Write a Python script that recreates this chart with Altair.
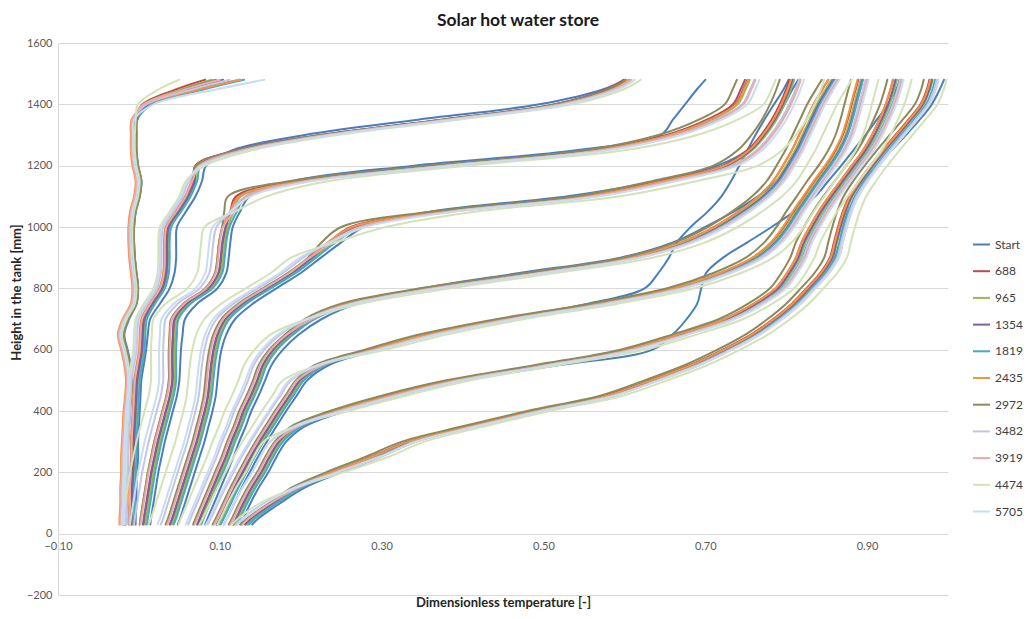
import altair as alt
import pandas as pd

# ---------------- data ----------------
SERIES = ["Start", "688", "965", "1354", "1819", "2435", "2972", "3482", "3919", "4474", "5705"]
COLORS = ["#4A7EBB", "#BE4B48", "#98B954", "#7D60A0", "#46AAC5", "#F69240",
          "#8C8A5C", "#C2C6E8", "#E8ABAA", "#D3E3B7", "#CADCF0"]

# heights in the tank [mm]
H = [30, 50, 100, 150, 200, 250, 300, 350, 400, 450, 500, 550, 600, 650, 700, 750,
     800, 850, 900, 950, 1000, 1050, 1100, 1150, 1200, 1250, 1300, 1350, 1400, 1450, 1480]

# typical temperature profiles (8 moments of the charge)
P1 = [-0.020, -0.020, -0.019, -0.019, -0.018, -0.018, -0.017, -0.016, -0.015, -0.013, -0.012, -0.014,
      -0.018, -0.022, -0.016, -0.006, -0.004, -0.006, -0.008, -0.009, -0.009, -0.007, -0.002, 0.000,
      -0.004, -0.006, -0.006, -0.005, 0.008, 0.060, 0.100]
P2 = [-0.010, -0.010, -0.009, -0.009, -0.008, -0.007, -0.007, -0.006, -0.005, -0.004, -0.003, 0.000,
      0.003, 0.004, 0.006, 0.016, 0.028, 0.033, 0.034, 0.034, 0.036, 0.048, 0.060, 0.068,
      0.074, 0.125, 0.230, 0.380, 0.520, 0.585, 0.605]
P3 = [0.004, 0.005, 0.008, 0.011, 0.014, 0.018, 0.022, 0.027, 0.032, 0.037, 0.040, 0.040,
      0.040, 0.041, 0.043, 0.058, 0.085, 0.097, 0.100, 0.102, 0.106, 0.116, 0.128, 0.205,
      0.375, 0.570, 0.660, 0.710, 0.742, 0.752, 0.757]
P4 = [0.037, 0.040, 0.046, 0.052, 0.058, 0.064, 0.070, 0.075, 0.080, 0.084, 0.086, 0.088,
      0.091, 0.096, 0.106, 0.127, 0.157, 0.188, 0.213, 0.238, 0.270, 0.380, 0.560, 0.655,
      0.730, 0.760, 0.777, 0.790, 0.800, 0.808, 0.812]
P5 = [0.071, 0.074, 0.082, 0.090, 0.098, 0.106, 0.113, 0.121, 0.128, 0.137, 0.145, 0.152,
      0.165, 0.185, 0.212, 0.260, 0.360, 0.490, 0.610, 0.675, 0.715, 0.745, 0.770, 0.788,
      0.800, 0.811, 0.820, 0.829, 0.838, 0.849, 0.856]
P6 = [0.095, 0.099, 0.108, 0.117, 0.127, 0.137, 0.148, 0.160, 0.172, 0.185, 0.198, 0.225,
      0.290, 0.360, 0.455, 0.570, 0.665, 0.722, 0.762, 0.785, 0.800, 0.812, 0.825, 0.838,
      0.852, 0.864, 0.873, 0.879, 0.884, 0.889, 0.892]
P7 = [0.115, 0.119, 0.128, 0.138, 0.150, 0.160, 0.172, 0.195, 0.245, 0.310, 0.390, 0.500,
      0.605, 0.670, 0.727, 0.763, 0.790, 0.804, 0.815, 0.822, 0.832, 0.843, 0.856, 0.870,
      0.884, 0.898, 0.909, 0.918, 0.926, 0.932, 0.935]
P8 = [0.130, 0.138, 0.165, 0.195, 0.240, 0.290, 0.335, 0.410, 0.490, 0.580, 0.635, 0.685,
      0.725, 0.760, 0.787, 0.810, 0.828, 0.845, 0.857, 0.862, 0.867, 0.873, 0.881, 0.893,
      0.907, 0.922, 0.938, 0.954, 0.969, 0.977, 0.980]
PROFILES = [P1, P2, P3, P4, P5, P6, P7, P8]

# the "Start" series, read separately (it departs from the others)
S1 = [-0.016, -0.016, -0.015, -0.015, -0.014, -0.014, -0.013, -0.012, -0.011, -0.009, -0.008, -0.010,
      -0.014, -0.018, -0.012, -0.003, -0.001, -0.003, -0.005, -0.006, -0.006, -0.004, 0.001, 0.003,
      -0.001, -0.003, -0.003, -0.002, 0.012, 0.075, 0.125]
S2 = [-0.004, -0.004, -0.003, -0.003, -0.002, -0.001, -0.001, 0.000, 0.001, 0.002, 0.003, 0.006,
      0.009, 0.011, 0.014, 0.026, 0.038, 0.044, 0.046, 0.046, 0.047, 0.058, 0.070, 0.078,
      0.083, 0.115, 0.205, 0.345, 0.495, 0.575, 0.600]
S3 = [0.014, 0.015, 0.018, 0.021, 0.024, 0.028, 0.032, 0.037, 0.042, 0.047, 0.050, 0.051,
      0.052, 0.054, 0.057, 0.072, 0.097, 0.108, 0.111, 0.113, 0.116, 0.125, 0.137, 0.190,
      0.340, 0.540, 0.645, 0.660, 0.675, 0.690, 0.700]
S4 = [0.048, 0.051, 0.057, 0.063, 0.069, 0.075, 0.081, 0.086, 0.091, 0.095, 0.097, 0.099,
      0.102, 0.108, 0.119, 0.141, 0.170, 0.200, 0.225, 0.250, 0.278, 0.360, 0.530, 0.640,
      0.715, 0.752, 0.772, 0.787, 0.798, 0.808, 0.815]
S5 = [0.082, 0.085, 0.093, 0.101, 0.109, 0.117, 0.124, 0.132, 0.139, 0.148, 0.156, 0.164,
      0.178, 0.198, 0.226, 0.270, 0.350, 0.470, 0.595, 0.660, 0.700, 0.735, 0.765, 0.788,
      0.803, 0.815, 0.825, 0.834, 0.843, 0.853, 0.860]
S6 = [0.105, 0.109, 0.118, 0.127, 0.137, 0.147, 0.158, 0.170, 0.182, 0.195, 0.208, 0.235,
      0.295, 0.360, 0.450, 0.555, 0.625, 0.642, 0.655, 0.665, 0.682, 0.703, 0.720, 0.732,
      0.742, 0.752, 0.762, 0.773, 0.785, 0.797, 0.803]
S7 = [0.125, 0.129, 0.138, 0.148, 0.160, 0.170, 0.182, 0.205, 0.255, 0.320, 0.400, 0.520,
      0.635, 0.660, 0.677, 0.690, 0.695, 0.701, 0.722, 0.752, 0.782, 0.810, 0.836, 0.852,
      0.868, 0.883, 0.898, 0.912, 0.926, 0.936, 0.942]
S8 = [0.140, 0.148, 0.175, 0.205, 0.250, 0.298, 0.342, 0.412, 0.488, 0.575, 0.632, 0.682,
      0.722, 0.758, 0.786, 0.810, 0.830, 0.848, 0.860, 0.866, 0.870, 0.875, 0.880, 0.895,
      0.912, 0.930, 0.948, 0.965, 0.980, 0.990, 0.995]
START = [S1, S2, S3, S4, S5, S6, S7, S8]

# offset of each other series from the typical profile, below (LO) and above (HI) the thermocline
LO = {
    "688":  [0.000, 0.000, 0.002, 0.002, 0.002, 0.002, 0.002, 0.002],
    "965":  [0.002, 0.002, 0.004, 0.004, 0.004, 0.004, 0.004, 0.004],
    "1354": [0.001, 0.001, 0.001, 0.001, 0.001, 0.001, 0.001, 0.001],
    "1819": [0.003, 0.004, 0.006, 0.006, 0.006, 0.006, 0.006, 0.006],
    "2435": [-0.004, -0.003, -0.003, -0.003, -0.003, -0.003, -0.003, -0.003],
    "2972": [0.003, -0.002, -0.003, -0.004, -0.004, -0.004, -0.004, -0.004],
    "3482": [-0.002, -0.006, -0.010, -0.010, -0.010, -0.010, -0.010, -0.010],
    "3919": [-0.003, -0.002, -0.002, -0.002, -0.002, -0.002, -0.002, -0.002],
    "4474": [0.001, -0.010, -0.025, -0.025, -0.022, -0.020, -0.018, -0.015],
    "5705": [-0.001, -0.008, -0.015, -0.014, -0.013, -0.012, -0.010, -0.008],
}
HI = {
    "688":  [-0.018, -0.006, -0.008, -0.008, -0.004, -0.003, -0.003, -0.003],
    "965":  [-0.010, -0.003, -0.002, -0.002, 0.000, 0.000, 0.002, 0.001],
    "1354": [0.004, -0.004, -0.005, -0.004, 0.002, 0.002, 0.000, 0.000],
    "1819": [0.030, 0.002, 0.004, 0.004, 0.004, 0.003, 0.005, 0.004],
    "2435": [0.025, 0.000, -0.004, -0.006, -0.004, -0.004, -0.003, -0.002],
    "2972": [-0.005, -0.004, -0.018, -0.020, -0.012, -0.012, -0.010, -0.010],
    "3482": [0.012, 0.004, 0.004, 0.004, 0.006, 0.006, 0.006, 0.006],
    "3919": [0.000, 0.003, 0.005, 0.006, 0.008, 0.008, 0.008, 0.008],
    "4474": [-0.050, 0.015, 0.030, 0.035, 0.025, 0.022, 0.020, 0.018],
    "5705": [0.055, 0.008, 0.010, 0.010, 0.010, 0.010, 0.010, 0.008],
}
# height band of each profile's thermocline [mm]
TA = [1380, 1150, 1000, 900, 650, 500, 300, 100]
TB = [1480, 1220, 1100, 1000, 780, 620, 420, 220]

rows = []
for s in SERIES:
    for p in range(8):
        for i, h in enumerate(H):
            if s == "Start":
                x = START[p][i]
            else:
                w = min(1.0, max(0.0, (h - TA[p]) / (TB[p] - TA[p])))
                x = PROFILES[p][i] + LO[s][p] * (1 - w) + HI[s][p] * w
            rows.append({"series": s, "profile": f"{s}-{p}", "idx": i, "h": h, "x": round(x, 4)})
df = pd.DataFrame(rows)

FONT = "Lato"

chart = alt.Chart(df).mark_line(
    interpolate="catmull-rom", strokeWidth=2, strokeCap="round", clip=True
).encode(
    x=alt.X("x:Q",
            scale=alt.Scale(domain=[-0.1, 1.0], nice=False, zero=False),
            axis=alt.Axis(values=[-0.1, 0.1, 0.3, 0.5, 0.7, 0.9], format=".2f",
                          grid=False, domain=False, ticks=False, offset=-62,
                          labelFlush=False, labelBound=False,
                          labelPadding=7, labelFontSize=11, labelColor="#595959", labelFont=FONT,
                          title="Dimensionless temperature [-]", titleFont=FONT, titleFontSize=13,
                          titleFontWeight="bold", titleColor="#262626", titleY=63)),
    y=alt.Y("h:Q",
            scale=alt.Scale(domain=[-200, 1600], nice=False, zero=False),
            axis=alt.Axis(values=list(range(-200, 1601, 200)), format="d", grid=True, gridColor="#D9D9D9",
                          domainColor="#D9D9D9", ticks=False, labelPadding=6,
                          labelFontSize=11, labelColor="#595959", labelFont=FONT,
                          title="Height in the tank [mm]", titleFont=FONT, titleFontSize=13,
                          titleFontWeight="bold", titleColor="#262626", titleX=-35, titleY=249)),
    color=alt.Color("series:N",
                    scale=alt.Scale(domain=SERIES, range=COLORS),
                    title=None,
                    legend=alt.Legend(orient="none", legendX=914, legendY=192, symbolType="stroke",
                                      symbolSize=289, symbolStrokeWidth=2, rowPadding=10.7,
                                      labelFontSize=12, labelFont=FONT, labelColor="#404040",
                                      labelOffset=4, padding=0)),
    detail="profile:N",
    order="idx:Q",
).properties(
    width=890, height=552,
    title=alt.TitleParams("Solar hot water store", font=FONT, fontSize=17.5, fontWeight="bold",
                          color="#1a1a1a", anchor="middle", dx=15, offset=8),
    autosize=alt.AutoSizeParams(type="none"),
    padding={"left": 50, "top": 35, "right": 75, "bottom": 16},
).configure_view(strokeWidth=0)

chart.save("out.html", embed_options={"renderer": "svg", "actions": False})
